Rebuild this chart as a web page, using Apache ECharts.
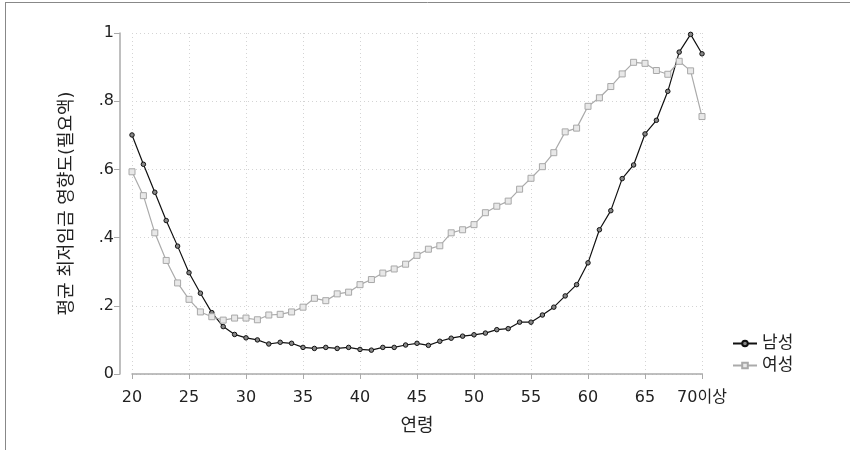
<!DOCTYPE html>
<html>
<head>
<meta charset="utf-8">
<script src="https://cdn.jsdelivr.net/npm/echarts@6/dist/echarts.min.js"></script>
<style>
html, body { margin: 0; padding: 0; background: #fff; }
#main { width: 850px; height: 450px; }
</style>
</head>
<body>
<div id="main"></div>
<script>
// 연령 20 ~ 70(이상)
var ages = [];
for (var a = 20; a <= 70; a++) { ages.push(a); }

// 남성 평균 최저임금 영향도
var male = [0.701, 0.615, 0.533, 0.450, 0.375, 0.297, 0.237, 0.180, 0.139, 0.116,
    0.106, 0.100, 0.088, 0.093, 0.090, 0.078, 0.075, 0.078, 0.075, 0.078,
    0.072, 0.070, 0.078, 0.078, 0.085, 0.090, 0.084, 0.096, 0.105, 0.111,
    0.115, 0.120, 0.130, 0.133, 0.152, 0.152, 0.173, 0.196, 0.229, 0.262,
    0.326, 0.423, 0.479, 0.573, 0.613, 0.704, 0.744, 0.829, 0.944, 0.996,
    0.939];

// 여성 평균 최저임금 영향도
var female = [0.593, 0.523, 0.414, 0.333, 0.267, 0.219, 0.182, 0.168, 0.158, 0.164,
    0.164, 0.159, 0.173, 0.175, 0.182, 0.196, 0.222, 0.215, 0.235, 0.240,
    0.262, 0.277, 0.296, 0.308, 0.322, 0.348, 0.366, 0.376, 0.414, 0.423,
    0.438, 0.473, 0.492, 0.507, 0.542, 0.574, 0.608, 0.649, 0.710, 0.721,
    0.785, 0.810, 0.843, 0.880, 0.914, 0.911, 0.890, 0.879, 0.917, 0.889,
    0.755];

var yTicks = ['0', '.2', '.4', '.6', '.8', '1'];

var font = '"DejaVu Sans", "Noto Sans CJK KR", sans-serif';
var myChart = echarts.init(document.getElementById('main'));

function pairs(vals) {
    var out = [];
    for (var i = 0; i < ages.length; i++) {
        out.push([ages[i], vals[i]]);
    }
    return out;
}

var option = {
    animation: false,
    backgroundColor: '#fff',
    textStyle: { fontFamily: font },
    graphic: [
        { type: 'line', shape: { x1: 5.5, y1: 2, x2: 5.5, y2: 450 }, style: { stroke: '#888', lineWidth: 1 } },
        { type: 'line', shape: { x1: 5, y1: 2.5, x2: 850, y2: 2.5 }, style: { stroke: '#888', lineWidth: 1 } }
    ],
    grid: { left: 132, right: 148, top: 33, bottom: 76 },
    legend: {
        orient: 'vertical',
        left: 727,
        top: 330,
        itemWidth: 24,
        itemHeight: 7,
        itemGap: 5,
        textStyle: { fontFamily: font, fontSize: 17, color: '#222' },
        data: ['남성', '여성']
    },
    xAxis: {
        type: 'value',
        min: 20,
        max: 70,
        interval: 5,
        offset: 10,
        name: '연령',
        nameLocation: 'middle',
        nameGap: 33,
        nameTextStyle: { fontFamily: font, fontSize: 18, color: '#222' },
        axisLine: { lineStyle: { color: '#aaa', width: 1.5 } },
        axisTick: { length: 5, lineStyle: { color: '#aaa' } },
        axisLabel: {
            fontSize: 16, color: '#222', margin: 6,
            formatter: function (v) { return v === 70 ? '70이상' : String(v); }
        },
        splitLine: { show: true, lineStyle: { color: '#d4d4d4', type: [1, 3] } }
    },
    yAxis: {
        type: 'value',
        min: 0,
        max: 1,
        interval: 0.2,
        offset: 12,
        name: '평균 최저임금 영향도(필요액)',
        nameLocation: 'middle',
        nameGap: 44,
        nameTextStyle: { fontFamily: font, fontSize: 18, color: '#222' },
        axisLine: { show: true, lineStyle: { color: '#aaa', width: 1.5 } },
        axisTick: { show: true, length: 6, lineStyle: { color: '#aaa' } },
        axisLabel: {
            fontSize: 16, color: '#222', margin: 6,
            formatter: function (v) { return yTicks[Math.round(v * 5)]; }
        },
        splitLine: { show: true, lineStyle: { color: '#d4d4d4', type: [1, 3] } }
    },
    series: [
        {
            name: '남성',
            type: 'line',
            data: pairs(male),
            symbol: 'circle',
            symbolSize: 4.5,
            showAllSymbol: true,
            lineStyle: { color: '#111', width: 1.2 },
            itemStyle: { color: '#888', borderColor: '#111', borderWidth: 1 }
        },
        {
            name: '여성',
            type: 'line',
            data: pairs(female),
            symbol: 'rect',
            symbolSize: 6,
            showAllSymbol: true,
            lineStyle: { color: '#aaa', width: 1.2 },
            itemStyle: { color: '#e8e8e8', borderColor: '#a8a8a8', borderWidth: 1 }
        }
    ]
};
myChart.setOption(option);
</script>
</body>
</html>
